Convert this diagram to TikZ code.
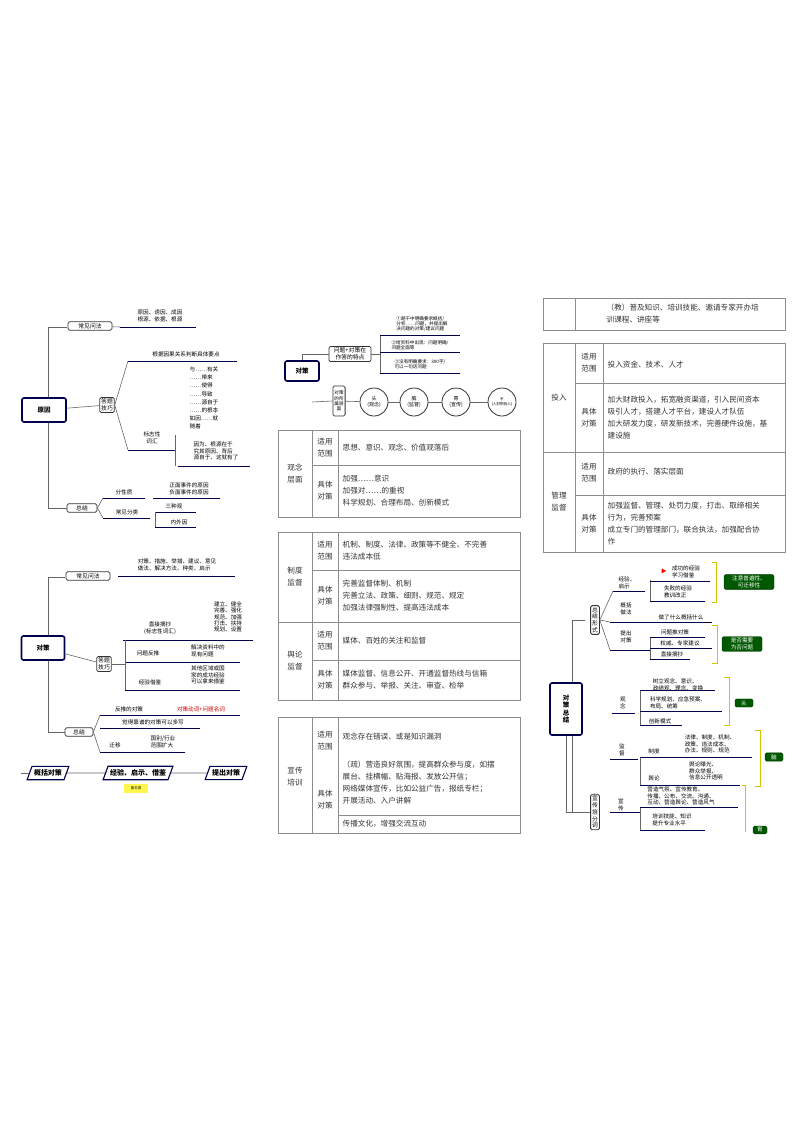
\documentclass[tikz,border=0pt]{standalone}
\usepackage{fontspec}
\setmainfont{Noto Sans CJK SC}
\newfontfamily\songti{Noto Sans CJK SC}
\usetikzlibrary{shapes.geometric,arrows.meta}
\tikzset{
 x=1pt,y=-1pt,
 t/.style={font=\fontsize{5.6}{6.6}\selectfont,align=left,inner sep=0.5pt},
 tc/.style={font=\fontsize{5.6}{6.6}\selectfont,align=center,inner sep=0.5pt},
 tt/.style={font=\fontsize{7.6}{12}\selectfont,align=left,inner sep=0.5pt,text=black!80},
 sbox/.style={draw=black!80,thick,rounded corners=1.5pt,fill=white,font=\fontsize{5.8}{6.8}\selectfont,align=center,inner sep=1.5pt},
 mbox/.style={draw=blue!30!black,line width=1.6pt,rounded corners=2pt,fill=white,font=\fontsize{6.5}{7.5}\selectfont\bfseries,align=center},
 ul/.style={draw=blue!30!black,line width=0.9pt},
 ln/.style={draw=black!60,line width=0.6pt},
 gbox/.style={fill=green!35!black,draw=green!20!black,rounded corners=1.5pt,text=white,font=\fontsize{5.6}{6.6}\selectfont,align=center,inner sep=1.5pt},
 brk/.style={draw=yellow!60!olive,line width=0.7pt},
 tab/.style={draw=black!45,line width=0.8pt},
 para/.style={trapezium,trapezium left angle=70,trapezium right angle=110,draw=blue!30!black,line width=1.1pt,font=\fontsize{7}{8}\selectfont\bfseries,minimum height=12pt,inner xsep=2pt},
 circ/.style={circle,draw=black!80,thick,minimum size=28pt,inner sep=0pt,font=\fontsize{5}{6}\selectfont,align=center},
}
\begin{document}
\begin{tikzpicture}
\useasboundingbox[fill=white] (0,0) rectangle (800,1132);
% ===================== 原因 map
\draw[ln] (48,327) -- (48,508);
\draw[ln] (48,327) -- (67,327); \draw[ln] (48,508) -- (67,508);
\node[mbox,minimum width=44pt,minimum height=24pt] (yy) at (44,410) {原因};
\node[sbox,minimum width=44pt] (yw) at (90,326) {常见问法};
\node[t] (yw1) at (160,316) {原因、诱因、成因\\根源、依据、根源};
\draw[ul] (120,327) -- (196,327);
\draw[ln] (yw) -- (120,327);
\node[sbox] (yj) at (107,405) {答题\\技巧};
\draw[ln] (yy) -- (yj);
\node[t] (yj1) at (186,354) {根据因果关系判断具体要点};
\draw[ul] (128,361) -- (237,361);
\node[t,font=\fontsize{5.6}{8.2}\selectfont] (yj2) at (204,398) {与……有关\\……带来\\……使得\\……导致\\……源自于\\……的根本\\如因……就\\随着};
\node[tc] (yj3) at (152,438) {标志性\\词汇};
\draw[ul] (128,450) -- (175,450);
\draw[ln] (175,435) -- (175,466);
\node[t] (yj4) at (216,451) {因为、根源在于\\究其原因、背后\\源自于、这就有了};
\draw[ul] (178,466) -- (250,466);
\draw[ln] (yj.east) -- (128,361); \draw[ln] (yj.east) -- (128,450);
\node[sbox,minimum width=30pt] (yz) at (82,508) {总结};
\node[t] (yz1) at (124,492) {分性质};
\draw[ul] (103,498) -- (145,498);
\node[t] (yz2) at (189,489) {正面事件的原因\\负面事件的原因};
\draw[ul] (153,498) -- (220,498);
\node[t] (yz3) at (127,512) {常见分类};
\draw[ul] (103,518) -- (150,518);
\node[t] (yz4) at (174,506) {三种观};
\draw[ul] (155,512) -- (196,512);
\node[t] (yz5) at (179,522) {内外因};
\draw[ul] (155,527) -- (196,527);
\draw[ln] (155,512) -- (155,527);
\draw[ln] (yz.east) -- (103,498); \draw[ln] (yz.east) -- (103,518);
% ===================== 对策 map
\draw[ln] (48,577) -- (48,732);
\draw[ln] (48,577) -- (65,577); \draw[ln] (48,732) -- (65,732);
\node[mbox,minimum width=43pt,minimum height=24pt] (dc) at (43,648) {对策};
\node[sbox,minimum width=44pt] (dw) at (88,576) {常见问法};
\node[t] (dw1) at (177,565) {对策、措施、举措、建议、意见\\做法、解决方法、种类、启示};
\draw[ul] (118,576) -- (235,576);
\node[sbox] (dj) at (104,664) {答题\\技巧};
\draw[ln] (dc) -- (dj);
\node[tc] (dj1) at (160,628) {直接摘抄\\(标志性词汇)};
\node[t,font=\fontsize{5.6}{6.2}\selectfont] (dj2) at (228,617) {建立、健全\\完善、强化\\规范、加强\\打击、扶持\\规划、设置};
\draw[ul] (123,640) -- (253,640);
\node[t] (dj3) at (148,653) {问题反推};
\node[t] (dj4) at (208,651) {解决资料中的\\现有问题};
\draw[ul] (125,662) -- (240,662);
\node[t] (dj5) at (150,682) {经验借鉴};
\node[t] (dj6) at (208,675) {其他区域或国\\家的成功经验\\可以拿来借鉴};
\draw[ul] (125,690) -- (240,690);
\draw[ln] (125,640) -- (125,690);
\draw[ln] (dj.east) -- (125,664);
\node[sbox,minimum width=28pt] (dz) at (79,732) {总结};
\node[t] (dz1) at (129,709) {反推的对策};
\node[t,text=red!80!black] (dz2) at (201,709) {对策动词+问题名词};
\draw[ul] (100,715) -- (240,715);
\node[t] (dz3) at (153,722) {觉得靠谱的对策可以多写};
\draw[ul] (100,728) -- (200,728);
\node[t] (dz4) at (115,745) {迁移};
\node[t] (dz5) at (163,742) {国别/行业\\范围扩大};
\draw[ul] (100,752) -- (185,752);
\draw[ln] (dz.east) -- (100,715); \draw[ln] (dz.east) -- (100,752);
\node[para] (p1) at (48,773) {概括对策};
\node[para] (p2) at (138,773) {经验、启示、借鉴};
\node[para] (p3) at (226,773) {提出对策};
\draw[ln] (p3) -- (p2); \draw[ln] (p2) -- (p1); \draw[ln] (p1.west) -- ++(-8,0);
\node[fill=yellow!70,font=\fontsize{3.5}{4}\selectfont,minimum width=24pt,minimum height=9pt,inner sep=0pt] (memo) at (136,788) {备忘录};
% ===================== middle top map
\node[mbox,minimum width=34pt,minimum height=20pt] (mc) at (302,371) {对策};
\node[sbox,minimum width=42pt] (mq) at (350,354) {问题+对策在\\作答的特点};
\draw[ln] (mc.north) |- (mq.west);
\draw[ln] (380,335) -- (380,373) ; \draw[ln] (mq.east) -- (380,354);
\node[t,font=\fontsize{4.6}{5.4}\selectfont] (mq1) at (422,324) {①题干中明确要求概括/\\分析……问题，并提出解\\决问题的对策/建议问题};
\draw[ul] (380,335) -- (460,335);
\node[t,font=\fontsize{4.6}{5.4}\selectfont] (mq2) at (420,345) {②给资料中出现：问题明确/\\问题全面等};
\draw[ul] (380,352) -- (460,352);
\node[t,font=\fontsize{4.6}{5.4}\selectfont] (mq3) at (420,364) {③没有明确要求：300字/\\可以一句话问题};
\draw[ul] (380,373) -- (460,373);
\node[sbox,minimum height=30pt,font=\fontsize{4.6}{5.4}\selectfont] (ml) at (339,401) {对策\\的所\\属层\\面};
\draw[ln] (312,402) -- (ml.west);
\node[circ] (c1) at (374,402) {头\\(观念)};
\node[circ] (c2) at (414,402) {脑\\(监督)};
\node[circ] (c3) at (456,402) {胃\\(宣传)};
\node[circ,font=\fontsize{3.6}{4.4}\selectfont] (c4) at (502,402) {手\\(人财物投入)};
\draw[ln] (ml) -- (c1); \draw[ln] (c1) -- (c2); \draw[ln] (c2) -- (c3); \draw[ln] (c3) -- (c4);
% ===================== table 1 观念层面
\draw[tab] (278,430) rectangle (520,517);
\draw[tab] (312,430) -- (312,517); \draw[tab] (338,430) -- (338,517);
\draw[tab] (312,465) -- (520,465);
\node[tt] at (295,474) {观念\\层面};
\node[tt] at (325,448) {适用\\范围};
\node[tt] at (325,491) {具体\\对策};
\node[tt] (t11) at (342,448) [anchor=west] {思想、意识、观念、价值观落后};
\node[tt] (t12) at (342,491) [anchor=west] {加强……意识\\加强对……的重视\\科学规划、合理布局、创新模式};
% ===================== table 2 制度/舆论监督
\draw[tab] (278,532) rectangle (520,700);
\draw[tab] (312,532) -- (312,700); \draw[tab] (338,532) -- (338,700);
\draw[tab] (278,622) -- (520,622);
\draw[tab] (312,570) -- (520,570); \draw[tab] (312,660) -- (520,660);
\node[tt] at (295,577) {制度\\监督};
\node[tt] at (325,551) {适用\\范围};
\node[tt] at (325,596) {具体\\对策};
\node[tt] at (295,661) {舆论\\监督};
\node[tt] at (325,641) {适用\\范围};
\node[tt] at (325,680) {具体\\对策};
\node[tt,anchor=west] at (342,551) {机制、制度、法律、政策等不健全、不完善\\违法成本低};
\node[tt,anchor=west] at (342,596) {完善监督体制、机制\\完善立法、政策、细则、规范、规定\\加强法律强制性、提高违法成本};
\node[tt,anchor=west] at (342,641) {媒体、百姓的关注和监督};
\node[tt,anchor=west] at (342,680) {媒体监督、信息公开、开通监督热线与信箱\\群众参与、举报、关注、审查、检举};
% ===================== table 3 宣传培训
\draw[tab] (278,717) rectangle (520,833);
\draw[tab] (312,717) -- (312,833); \draw[tab] (338,717) -- (338,833);
\draw[tab] (338,815) -- (520,815);
\node[tt] at (295,777) {宣传\\培训};
\node[tt] at (325,741) {适用\\范围};
\node[tt] at (325,800) {具体\\对策};
\node[tt,anchor=west] at (342,737) {观念存在错误、或是知识漏洞};
\node[tt,anchor=west] at (342,783) {（疏）营造良好氛围，提高群众参与度，如摆\\展台、挂横幅、贴海报、发放公开信；\\网络媒体宣传，比如公益广告，报纸专栏；\\开展活动、入户讲解};
\node[tt,anchor=west] at (342,824) {传播文化，增强交流互动};
% ===================== right tables
\draw[tab] (543,298) rectangle (785,330);
\draw[tab] (575,298) -- (575,330);
\node[tt,anchor=west] at (606,314) {（教）普及知识、培训技能、邀请专家开办培\\训课程、讲座等};
\draw[tab] (543,343) rectangle (785,552);
\draw[tab] (575,343) -- (575,552); \draw[tab] (603,343) -- (603,552);
\draw[tab] (543,452) -- (785,452);
\draw[tab] (575,383) -- (785,383); \draw[tab] (575,495) -- (785,495);
\node[tt] at (559,398) {投入};
\node[tt] at (589,363) {适用\\范围};
\node[tt] at (589,418) {具体\\对策};
\node[tt] at (559,502) {管理\\监督};
\node[tt] at (589,473) {适用\\范围};
\node[tt] at (589,524) {具体\\对策};
\node[tt,anchor=west] at (607,365) {投入资金、技术、人才};
\node[tt,anchor=west] at (607,418) {加大财政投入，拓宽融资渠道，引入民间资本\\吸引人才，搭建人才平台，建设人才队伍\\加大研发力度，研发新技术，完善硬件设施，基\\建设施};
\node[tt,anchor=west] at (607,472) {政府的执行、落实层面};
\node[tt,anchor=west] at (607,524) {加强监督、管理、处罚力度，打击、取缔相关\\行为，完善预案\\成立专门的管理部门，联合执法，加强配合协\\作};
% ===================== right map 对策总结
\draw[ln] (572,620) -- (572,812);
\draw[ln] (572,620) -- (585,620); \draw[ln] (572,812) -- (585,812);
\node[mbox,minimum width=32pt,minimum height=52pt] (rz) at (566,709) {对\\策\\总\\结};
\node[sbox] (rx) at (595,620) {总\\结\\形\\式};
\node[t] (r1) at (627,583) {经验、\\启示};
\draw[ul] (613,591) -- (645,591);
\draw[ln] (650,580) -- (650,601);
\node[t,text=red] at (664,571) {▶};
\node[t] (r1a) at (686,572) {成功的经验\\学习借鉴};
\draw[ul] (650,581) -- (710,581);
\node[t] (r1b) at (678,592) {失败的经验\\教训改正};
\draw[ul] (650,601) -- (705,601);
\draw[brk] (712,562) -- (716,562) -- (716,602) -- (712,602);
\node[gbox,minimum width=50pt] (g1) at (749,582) {注意普遍性、\\可迁移性};
\node[t] (r2) at (626,609) {概括\\做法};
\node[t] (r2a) at (681,617) {做了什么概括什么};
\draw[ul] (610,622) -- (712,622);
\node[t] (r3) at (626,637) {提出\\对策};
\draw[ul] (610,650) -- (650,650);
\draw[ln] (650,637) -- (650,659);
\node[t] (r3a) at (675,632) {问题推对策};
\draw[ul] (650,637) -- (705,637);
\node[t] (r3b) at (680,643) {权威、专家建议};
\draw[ul] (650,648) -- (712,648);
\node[t] (r3c) at (672,654) {直接摘抄};
\draw[ul] (650,659) -- (690,659);
\draw[brk] (712,625) -- (717,625) -- (717,663) -- (712,663);
\node[gbox,minimum width=40pt] (g2) at (742,644) {是否需要\\为否问题};
\draw[ln] (rx.east) -- (613,591); \draw[ln] (rx.east) -- (610,622); \draw[ln] (rx.east) -- (610,650);
\node[t] (r4) at (623,703) {观\\念};
\draw[ul] (612,713) -- (635,713);
\draw[ln] (640,690) -- (640,725);
\node[t] (r4a) at (678,685) {树立观念、意识、\\政绩观、理念、变换};
\draw[ul] (640,690) -- (715,690);
\node[t] (r4b) at (678,703) {科学规划、应急预案、\\布局、统筹};
\draw[ul] (640,711) -- (722,711);
\node[t] (r4c) at (660,721) {创新模式};
\draw[ul] (640,725) -- (682,725);
\draw[brk] (724,677) -- (729,677) -- (729,725) -- (724,725);
\node[gbox,minimum width=18pt] (g3) at (744,703) {头};
\node[t] (r5) at (622,750) {监\\督};
\draw[ul] (610,759) -- (638,759);
\draw[ln] (640,757) -- (640,785);
\node[t] (r5a) at (654,751) {制度};
\node[t] (r5b) at (710,744) {法律、制度、机制、\\政策、违法成本、\\办法、规则、规范};
\draw[ul] (640,757) -- (752,757);
\node[t] (r5c) at (654,778) {舆论};
\node[t] (r5d) at (706,771) {舆论曝光、\\群众举报、\\信息公开透明};
\draw[ul] (640,785) -- (740,785);
\draw[brk] (755,730) -- (760,730) -- (760,786) -- (755,786);
\node[gbox,minimum width=18pt] (g4) at (774,757) {脑};
\node[sbox] (rp) at (595,812) {宣\\传\\培\\分\\词};
\node[t] (r6) at (621,805) {宣\\传};
\draw[ul] (610,812) -- (640,812);
\draw[ln] (640,807) -- (640,830);
\node[t] (r6a) at (681,796) {营造气氛、宣传教育、\\传播、公布、交流、沟通、\\互动、营造舆论、营造风气};
\draw[ul] (640,807) -- (738,807);
\node[t] (r6b) at (672,820) {培训技能、知识\\提升专业水平};
\draw[ul] (640,830) -- (705,830);
\draw[brk] (742,785) -- (745,785) -- (745,832);
\node[gbox,minimum width=14pt] (g5) at (760,830) {胃};
\draw[ln] (rz.south) |- (rp.west);
\end{tikzpicture}
\end{document}
